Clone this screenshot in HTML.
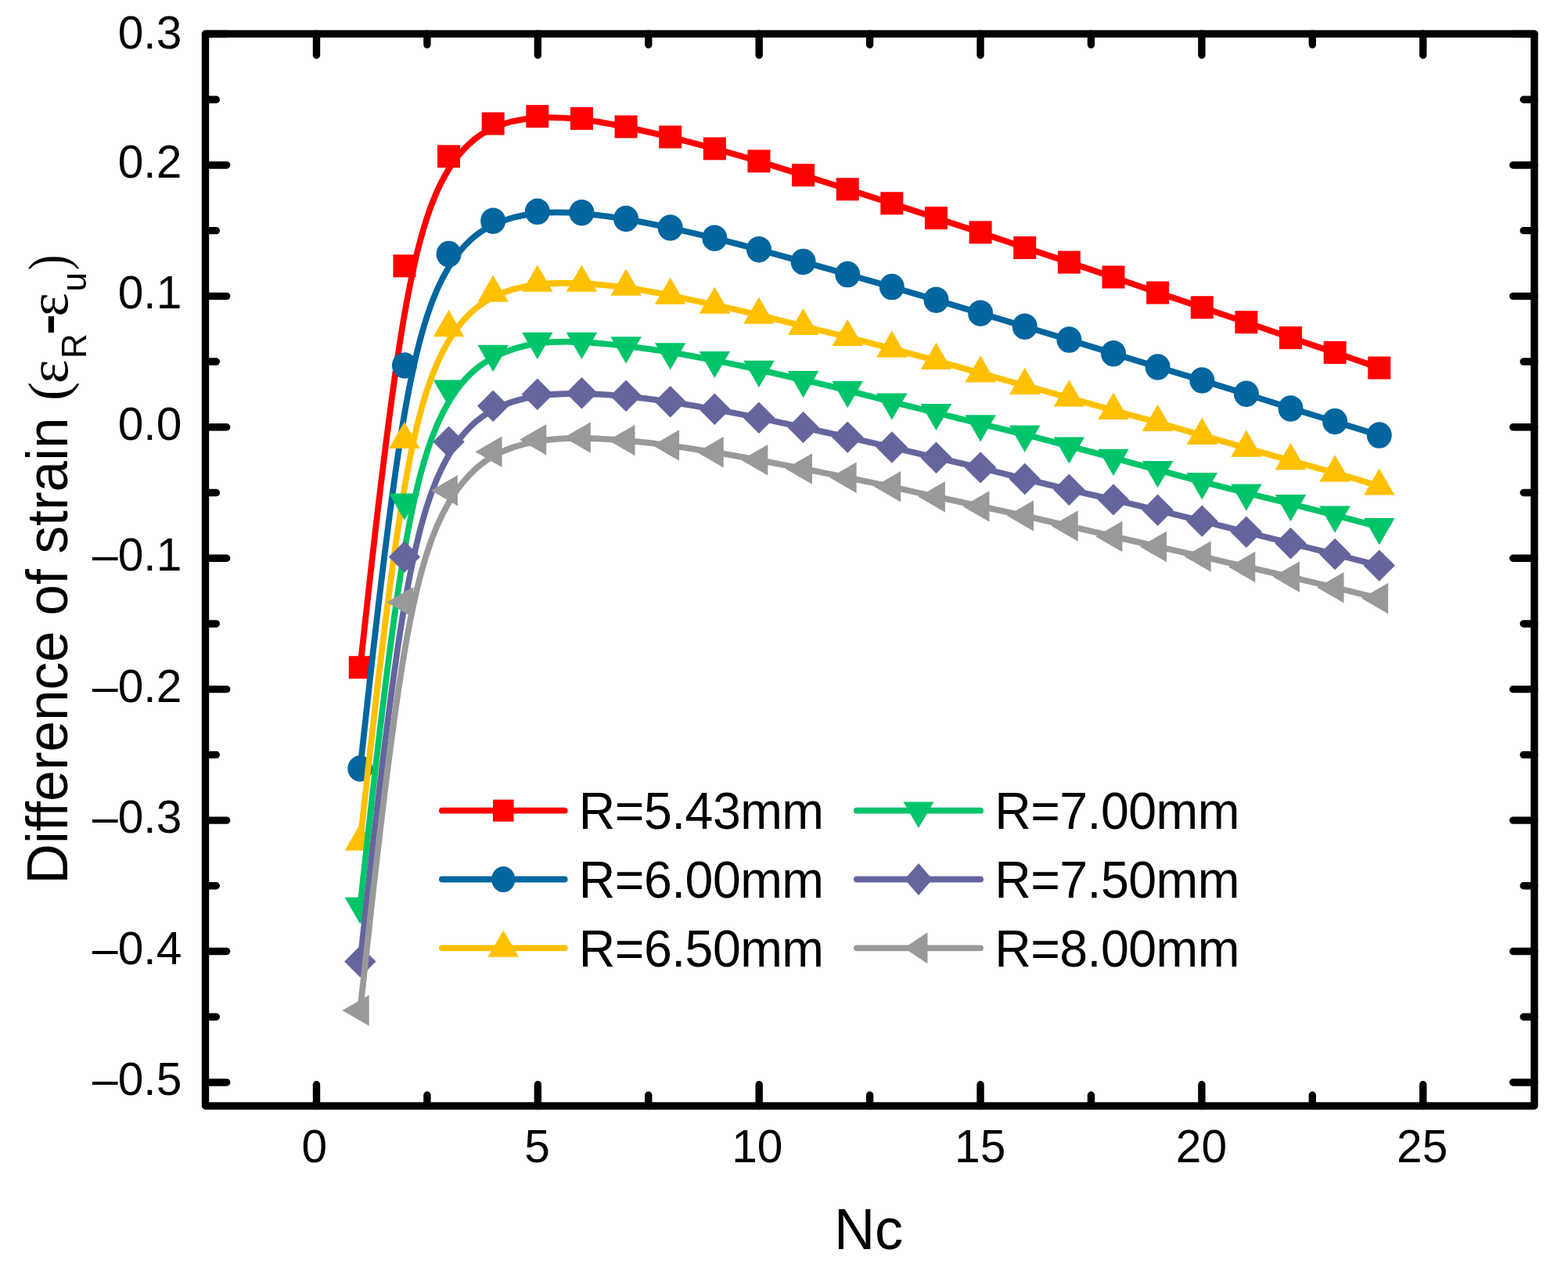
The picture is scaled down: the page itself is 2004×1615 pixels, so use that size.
<!DOCTYPE html>
<html><head><meta charset="utf-8"><title>Difference of strain vs Nc</title>
<style>html,body{margin:0;padding:0;background:#fff;overflow:hidden}svg{display:block}text{font-family:"Liberation Sans",Arial,sans-serif;fill:#000}.srf{font-family:"Liberation Serif","Times New Roman",serif}</style></head>
<body>
<svg width="2004" height="1615" viewBox="0 0 2004 1615">
<rect width="2004" height="1615" fill="#fff"/>
<path d="M460.3,852.7C460.3,852.7 460.3,852.7 469.74,767.22C479.18,681.73 498.05,510.77 516.93,401.95C535.81,293.13 554.68,246.47 573.56,216.17C592.44,185.87 611.31,171.93 630.19,163.4C649.07,154.87 667.94,151.73 686.82,150.63C705.7,149.53 724.57,150.47 743.45,152.68C762.33,154.9 781.2,158.4 800.08,162.33C818.96,166.27 837.83,170.63 856.71,175.3C875.59,179.97 894.46,184.93 913.34,190.08C932.22,195.23 951.09,200.57 969.97,206.22C988.85,211.87 1007.72,217.83 1026.6,223.82C1045.48,229.8 1064.35,235.8 1083.23,241.8C1102.11,247.8 1120.98,253.8 1139.86,259.93C1158.74,266.07 1177.61,272.33 1196.49,278.52C1215.37,284.7 1234.24,290.8 1253.12,297.12C1272,303.43 1290.87,309.97 1309.75,316.33C1328.63,322.7 1347.5,328.9 1366.38,335.15C1385.26,341.4 1404.13,347.7 1423.01,354.18C1441.89,360.67 1460.76,367.33 1479.64,373.8C1498.52,380.27 1517.39,386.53 1536.27,392.82C1555.15,399.1 1574.02,405.4 1592.9,411.87C1611.78,418.33 1630.65,424.97 1649.53,431.42C1668.41,437.87 1687.28,444.13 1706.16,450.53C1725.04,456.93 1743.91,463.47 1753.35,466.73C1762.79,470 1762.79,470 1762.79,470" fill="none" stroke="#FF0000" stroke-width="7.8" stroke-linejoin="round"/>
<g><rect x="445.8" y="838.2" width="29" height="29" fill="#FF0000"/><rect x="502.43" y="325.3" width="29" height="29" fill="#FF0000"/><rect x="559.06" y="185.3" width="29" height="29" fill="#FF0000"/><rect x="615.69" y="143.5" width="29" height="29" fill="#FF0000"/><rect x="672.32" y="134.1" width="29" height="29" fill="#FF0000"/><rect x="728.95" y="136.9" width="29" height="29" fill="#FF0000"/><rect x="785.58" y="147.4" width="29" height="29" fill="#FF0000"/><rect x="842.21" y="160.5" width="29" height="29" fill="#FF0000"/><rect x="898.84" y="175.4" width="29" height="29" fill="#FF0000"/><rect x="955.47" y="191.4" width="29" height="29" fill="#FF0000"/><rect x="1012.1" y="209.3" width="29" height="29" fill="#FF0000"/><rect x="1068.73" y="227.3" width="29" height="29" fill="#FF0000"/><rect x="1125.36" y="245.3" width="29" height="29" fill="#FF0000"/><rect x="1181.99" y="264.1" width="29" height="29" fill="#FF0000"/><rect x="1238.62" y="282.4" width="29" height="29" fill="#FF0000"/><rect x="1295.25" y="302" width="29" height="29" fill="#FF0000"/><rect x="1351.88" y="320.6" width="29" height="29" fill="#FF0000"/><rect x="1408.51" y="339.5" width="29" height="29" fill="#FF0000"/><rect x="1465.14" y="359.5" width="29" height="29" fill="#FF0000"/><rect x="1521.77" y="378.3" width="29" height="29" fill="#FF0000"/><rect x="1578.4" y="397.2" width="29" height="29" fill="#FF0000"/><rect x="1635.03" y="417.1" width="29" height="29" fill="#FF0000"/><rect x="1691.66" y="435.9" width="29" height="29" fill="#FF0000"/><rect x="1748.29" y="455.5" width="29" height="29" fill="#FF0000"/></g>
<path d="M460.3,982C460.3,982 460.3,982 469.74,896.15C479.18,810.3 498.05,638.6 516.93,529.03C535.81,419.47 554.68,372.03 573.56,341.25C592.44,310.47 611.31,296.33 630.19,287.28C649.07,278.23 667.94,274.27 686.82,272.52C705.7,270.77 724.57,271.23 743.45,272.77C762.33,274.3 781.2,276.9 800.08,280.1C818.96,283.3 837.83,287.1 856.71,291.22C875.59,295.33 894.46,299.77 913.34,304.4C932.22,309.03 951.09,313.87 969.97,318.9C988.85,323.93 1007.72,329.17 1026.6,334.48C1045.48,339.8 1064.35,345.2 1083.23,350.57C1102.11,355.93 1120.98,361.27 1139.86,366.7C1158.74,372.13 1177.61,377.67 1196.49,383.27C1215.37,388.87 1234.24,394.53 1253.12,400.2C1272,405.87 1290.87,411.53 1309.75,417.18C1328.63,422.83 1347.5,428.47 1366.38,434.22C1385.26,439.97 1404.13,445.83 1423.01,451.65C1441.89,457.47 1460.76,463.23 1479.64,468.95C1498.52,474.67 1517.39,480.33 1536.27,486.03C1555.15,491.73 1574.02,497.47 1592.9,503.45C1611.78,509.43 1630.65,515.67 1649.53,521.55C1668.41,527.43 1687.28,532.97 1706.16,538.67C1725.04,544.37 1743.91,550.23 1753.35,553.17C1762.79,556.1 1762.79,556.1 1762.79,556.1" fill="none" stroke="#03669F" stroke-width="7.8" stroke-linejoin="round"/>
<g><ellipse cx="460.3" cy="982" rx="15.99" ry="16.73" fill="#03669F"/><ellipse cx="516.93" cy="466.9" rx="15.99" ry="16.73" fill="#03669F"/><ellipse cx="573.56" cy="324.6" rx="15.99" ry="16.73" fill="#03669F"/><ellipse cx="630.19" cy="282.2" rx="15.99" ry="16.73" fill="#03669F"/><ellipse cx="686.82" cy="270.3" rx="15.99" ry="16.73" fill="#03669F"/><ellipse cx="743.45" cy="271.7" rx="15.99" ry="16.73" fill="#03669F"/><ellipse cx="800.08" cy="279.5" rx="15.99" ry="16.73" fill="#03669F"/><ellipse cx="856.71" cy="290.9" rx="15.99" ry="16.73" fill="#03669F"/><ellipse cx="913.34" cy="304.2" rx="15.99" ry="16.73" fill="#03669F"/><ellipse cx="969.97" cy="318.7" rx="15.99" ry="16.73" fill="#03669F"/><ellipse cx="1026.6" cy="334.4" rx="15.99" ry="16.73" fill="#03669F"/><ellipse cx="1083.23" cy="350.6" rx="15.99" ry="16.73" fill="#03669F"/><ellipse cx="1139.86" cy="366.6" rx="15.99" ry="16.73" fill="#03669F"/><ellipse cx="1196.49" cy="383.2" rx="15.99" ry="16.73" fill="#03669F"/><ellipse cx="1253.12" cy="400.2" rx="15.99" ry="16.73" fill="#03669F"/><ellipse cx="1309.75" cy="417.2" rx="15.99" ry="16.73" fill="#03669F"/><ellipse cx="1366.38" cy="434.1" rx="15.99" ry="16.73" fill="#03669F"/><ellipse cx="1423.01" cy="451.7" rx="15.99" ry="16.73" fill="#03669F"/><ellipse cx="1479.64" cy="469" rx="15.99" ry="16.73" fill="#03669F"/><ellipse cx="1536.27" cy="486" rx="15.99" ry="16.73" fill="#03669F"/><ellipse cx="1592.9" cy="503.2" rx="15.99" ry="16.73" fill="#03669F"/><ellipse cx="1649.53" cy="521.9" rx="15.99" ry="16.73" fill="#03669F"/><ellipse cx="1706.16" cy="538.5" rx="15.99" ry="16.73" fill="#03669F"/><ellipse cx="1762.79" cy="556.1" rx="15.99" ry="16.73" fill="#03669F"/></g>
<path d="M460.3,1075.3C460.3,1075.3 460.3,1075.3 469.74,989.68C479.18,904.07 498.05,732.83 516.93,623.42C535.81,514 554.68,466.4 573.56,435.18C592.44,403.97 611.31,389.13 630.19,379.57C649.07,370 667.94,365.7 686.82,363.55C705.7,361.4 724.57,361.4 743.45,362.23C762.33,363.07 781.2,364.73 800.08,367.4C818.96,370.07 837.83,373.73 856.71,377.57C875.59,381.4 894.46,385.4 913.34,389.55C932.22,393.7 951.09,398 969.97,402.55C988.85,407.1 1007.72,411.9 1026.6,416.63C1045.48,421.37 1064.35,426.03 1083.23,430.8C1102.11,435.57 1120.98,440.43 1139.86,445.42C1158.74,450.4 1177.61,455.5 1196.49,460.78C1215.37,466.07 1234.24,471.53 1253.12,476.85C1272,482.17 1290.87,487.33 1309.75,492.53C1328.63,497.73 1347.5,502.97 1366.38,508.3C1385.26,513.63 1404.13,519.07 1423.01,524.28C1441.89,529.5 1460.76,534.5 1479.64,539.83C1498.52,545.17 1517.39,550.83 1536.27,556.32C1555.15,561.8 1574.02,567.1 1592.9,572.48C1611.78,577.87 1630.65,583.33 1649.53,588.6C1668.41,593.87 1687.28,598.93 1706.16,604.33C1725.04,609.73 1743.91,615.47 1753.35,618.33C1762.79,621.2 1762.79,621.2 1762.79,621.2" fill="none" stroke="#FFC000" stroke-width="7.8" stroke-linejoin="round"/>
<g><polygon points="460.3,1052.49 440.55,1086.7 480.05,1086.7" fill="#FFC000"/><polygon points="516.93,538.79 497.18,573 536.68,573" fill="#FFC000"/><polygon points="573.56,395.99 553.81,430.2 593.31,430.2" fill="#FFC000"/><polygon points="630.19,351.49 610.44,385.7 649.94,385.7" fill="#FFC000"/><polygon points="686.82,338.59 667.07,372.8 706.57,372.8" fill="#FFC000"/><polygon points="743.45,338.59 723.7,372.8 763.2,372.8" fill="#FFC000"/><polygon points="800.08,343.59 780.33,377.8 819.83,377.8" fill="#FFC000"/><polygon points="856.71,354.59 836.96,388.8 876.46,388.8" fill="#FFC000"/><polygon points="913.34,366.59 893.59,400.8 933.09,400.8" fill="#FFC000"/><polygon points="969.97,379.49 950.22,413.7 989.72,413.7" fill="#FFC000"/><polygon points="1026.6,393.89 1006.85,428.1 1046.35,428.1" fill="#FFC000"/><polygon points="1083.23,407.89 1063.48,442.1 1102.98,442.1" fill="#FFC000"/><polygon points="1139.86,422.49 1120.11,456.7 1159.61,456.7" fill="#FFC000"/><polygon points="1196.49,437.79 1176.74,472 1216.24,472" fill="#FFC000"/><polygon points="1253.12,454.19 1233.37,488.4 1272.87,488.4" fill="#FFC000"/><polygon points="1309.75,469.69 1290,503.9 1329.5,503.9" fill="#FFC000"/><polygon points="1366.38,485.39 1346.63,519.6 1386.13,519.6" fill="#FFC000"/><polygon points="1423.01,501.69 1403.26,535.9 1442.76,535.9" fill="#FFC000"/><polygon points="1479.64,516.69 1459.89,550.9 1499.39,550.9" fill="#FFC000"/><polygon points="1536.27,533.69 1516.52,567.9 1556.02,567.9" fill="#FFC000"/><polygon points="1592.9,549.59 1573.15,583.8 1612.65,583.8" fill="#FFC000"/><polygon points="1649.53,565.99 1629.78,600.2 1669.28,600.2" fill="#FFC000"/><polygon points="1706.16,581.19 1686.41,615.4 1725.91,615.4" fill="#FFC000"/><polygon points="1762.79,598.39 1743.04,632.6 1782.54,632.6" fill="#FFC000"/></g>
<path d="M460.3,1158C460.3,1158 460.3,1158 469.74,1071.98C479.18,985.97 498.05,813.93 516.93,703.73C535.81,593.53 554.68,545.17 573.56,513.53C592.44,481.9 611.31,467 630.19,456.9C649.07,446.8 667.94,441.5 686.82,438.85C705.7,436.2 724.57,436.2 743.45,437.12C762.33,438.03 781.2,439.87 800.08,442.1C818.96,444.33 837.83,446.97 856.71,450.07C875.59,453.17 894.46,456.73 913.34,460.48C932.22,464.23 951.09,468.17 969.97,472.35C988.85,476.53 1007.72,480.97 1026.6,485.37C1045.48,489.77 1064.35,494.13 1083.23,498.87C1102.11,503.6 1120.98,508.7 1139.86,513.5C1158.74,518.3 1177.61,522.8 1196.49,527.43C1215.37,532.07 1234.24,536.83 1253.12,541.43C1272,546.03 1290.87,550.47 1309.75,555.17C1328.63,559.87 1347.5,564.83 1366.38,569.87C1385.26,574.9 1404.13,580 1423.01,585.1C1441.89,590.2 1460.76,595.3 1479.64,600.37C1498.52,605.43 1517.39,610.47 1536.27,615.4C1555.15,620.33 1574.02,625.17 1592.9,629.83C1611.78,634.5 1630.65,639 1649.53,643.67C1668.41,648.33 1687.28,653.17 1706.16,658.15C1725.04,663.13 1743.91,668.27 1753.35,670.83C1762.79,673.4 1762.79,673.4 1762.79,673.4" fill="none" stroke="#00C46A" stroke-width="7.8" stroke-linejoin="round"/>
<g><polygon points="460.3,1180.81 440.55,1146.6 480.05,1146.6" fill="#00C46A"/><polygon points="516.93,664.71 497.18,630.5 536.68,630.5" fill="#00C46A"/><polygon points="573.56,519.61 553.81,485.4 593.31,485.4" fill="#00C46A"/><polygon points="630.19,474.91 610.44,440.7 649.94,440.7" fill="#00C46A"/><polygon points="686.82,459.01 667.07,424.8 706.57,424.8" fill="#00C46A"/><polygon points="743.45,459.01 723.7,424.8 763.2,424.8" fill="#00C46A"/><polygon points="800.08,464.51 780.33,430.3 819.83,430.3" fill="#00C46A"/><polygon points="856.71,472.41 836.96,438.2 876.46,438.2" fill="#00C46A"/><polygon points="913.34,483.11 893.59,448.9 933.09,448.9" fill="#00C46A"/><polygon points="969.97,494.91 950.22,460.7 989.72,460.7" fill="#00C46A"/><polygon points="1026.6,508.21 1006.85,474 1046.35,474" fill="#00C46A"/><polygon points="1083.23,521.31 1063.48,487.1 1102.98,487.1" fill="#00C46A"/><polygon points="1139.86,536.61 1120.11,502.4 1159.61,502.4" fill="#00C46A"/><polygon points="1196.49,550.11 1176.74,515.9 1216.24,515.9" fill="#00C46A"/><polygon points="1253.12,564.41 1233.37,530.2 1272.87,530.2" fill="#00C46A"/><polygon points="1309.75,577.71 1290,543.5 1329.5,543.5" fill="#00C46A"/><polygon points="1366.38,592.61 1346.63,558.4 1386.13,558.4" fill="#00C46A"/><polygon points="1423.01,607.91 1403.26,573.7 1442.76,573.7" fill="#00C46A"/><polygon points="1479.64,623.21 1459.89,589 1499.39,589" fill="#00C46A"/><polygon points="1536.27,638.31 1516.52,604.1 1556.02,604.1" fill="#00C46A"/><polygon points="1592.9,652.81 1573.15,618.6 1612.65,618.6" fill="#00C46A"/><polygon points="1649.53,666.31 1629.78,632.1 1669.28,632.1" fill="#00C46A"/><polygon points="1706.16,680.81 1686.41,646.6 1725.91,646.6" fill="#00C46A"/><polygon points="1762.79,696.21 1743.04,662 1782.54,662" fill="#00C46A"/></g>
<path d="M460.3,1228.5C460.3,1228.5 460.3,1228.5 469.74,1142.33C479.18,1056.17 498.05,883.83 516.93,773.18C535.81,662.53 554.68,613.57 573.56,581.45C592.44,549.33 611.31,534.07 630.19,523.93C649.07,513.8 667.94,508.8 686.82,506.03C705.7,503.27 724.57,502.73 743.45,503.07C762.33,503.4 781.2,504.6 800.08,506.43C818.96,508.27 837.83,510.73 856.71,513.55C875.59,516.37 894.46,519.53 913.34,522.97C932.22,526.4 951.09,530.1 969.97,533.98C988.85,537.87 1007.72,541.93 1026.6,546.07C1045.48,550.2 1064.35,554.4 1083.23,558.65C1102.11,562.9 1120.98,567.2 1139.86,571.57C1158.74,575.93 1177.61,580.37 1196.49,584.68C1215.37,589 1234.24,593.2 1253.12,597.73C1272,602.27 1290.87,607.13 1309.75,611.87C1328.63,616.6 1347.5,621.2 1366.38,625.6C1385.26,630 1404.13,634.2 1423.01,638.53C1441.89,642.87 1460.76,647.33 1479.64,651.88C1498.52,656.43 1517.39,661.07 1536.27,665.73C1555.15,670.4 1574.02,675.1 1592.9,679.85C1611.78,684.6 1630.65,689.4 1649.53,694.1C1668.41,698.8 1687.28,703.4 1706.16,708.13C1725.04,712.87 1743.91,717.73 1753.35,720.17C1762.79,722.6 1762.79,722.6 1762.79,722.6" fill="none" stroke="#65659E" stroke-width="7.8" stroke-linejoin="round"/>
<g><polygon points="460.3,1208.3 480.5,1228.5 460.3,1248.7 440.1,1228.5" fill="#65659E"/><polygon points="516.93,691.3 537.13,711.5 516.93,731.7 496.73,711.5" fill="#65659E"/><polygon points="573.56,544.4 593.76,564.6 573.56,584.8 553.36,564.6" fill="#65659E"/><polygon points="630.19,498.6 650.39,518.8 630.19,539 609.99,518.8" fill="#65659E"/><polygon points="686.82,483.6 707.02,503.8 686.82,524 666.62,503.8" fill="#65659E"/><polygon points="743.45,482 763.65,502.2 743.45,522.4 723.25,502.2" fill="#65659E"/><polygon points="800.08,485.6 820.28,505.8 800.08,526 779.88,505.8" fill="#65659E"/><polygon points="856.71,493 876.91,513.2 856.71,533.4 836.51,513.2" fill="#65659E"/><polygon points="913.34,502.5 933.54,522.7 913.34,542.9 893.14,522.7" fill="#65659E"/><polygon points="969.97,513.6 990.17,533.8 969.97,554 949.77,533.8" fill="#65659E"/><polygon points="1026.6,525.8 1046.8,546 1026.6,566.2 1006.4,546" fill="#65659E"/><polygon points="1083.23,538.4 1103.43,558.6 1083.23,578.8 1063.03,558.6" fill="#65659E"/><polygon points="1139.86,551.3 1160.06,571.5 1139.86,591.7 1119.66,571.5" fill="#65659E"/><polygon points="1196.49,564.6 1216.69,584.8 1196.49,605 1176.29,584.8" fill="#65659E"/><polygon points="1253.12,577.2 1273.32,597.4 1253.12,617.6 1232.92,597.4" fill="#65659E"/><polygon points="1309.75,591.8 1329.95,612 1309.75,632.2 1289.55,612" fill="#65659E"/><polygon points="1366.38,605.6 1386.58,625.8 1366.38,646 1346.18,625.8" fill="#65659E"/><polygon points="1423.01,618.2 1443.21,638.4 1423.01,658.6 1402.81,638.4" fill="#65659E"/><polygon points="1479.64,631.6 1499.84,651.8 1479.64,672 1459.44,651.8" fill="#65659E"/><polygon points="1536.27,645.5 1556.47,665.7 1536.27,685.9 1516.07,665.7" fill="#65659E"/><polygon points="1592.9,659.6 1613.1,679.8 1592.9,700 1572.7,679.8" fill="#65659E"/><polygon points="1649.53,674 1669.73,694.2 1649.53,714.4 1629.33,694.2" fill="#65659E"/><polygon points="1706.16,687.8 1726.36,708 1706.16,728.2 1685.96,708" fill="#65659E"/><polygon points="1762.79,702.4 1782.99,722.6 1762.79,742.8 1742.59,722.6" fill="#65659E"/></g>
<path d="M460.3,1290.9C460.3,1290.9 460.3,1290.9 469.74,1204.02C479.18,1117.13 498.05,943.37 516.93,832.68C535.81,722 554.68,674.4 573.56,642.35C592.44,610.3 611.31,593.8 630.19,582.95C649.07,572.1 667.94,566.9 686.82,563.83C705.7,560.77 724.57,559.83 743.45,559.97C762.33,560.1 781.2,561.3 800.08,562.97C818.96,564.63 837.83,566.77 856.71,569.32C875.59,571.87 894.46,574.83 913.34,577.97C932.22,581.1 951.09,584.4 969.97,587.92C988.85,591.43 1007.72,595.17 1026.6,598.92C1045.48,602.67 1064.35,606.43 1083.23,610.25C1102.11,614.07 1120.98,617.93 1139.86,622.03C1158.74,626.13 1177.61,630.47 1196.49,634.65C1215.37,638.83 1234.24,642.87 1253.12,646.9C1272,650.93 1290.87,654.97 1309.75,659.15C1328.63,663.33 1347.5,667.67 1366.38,672.08C1385.26,676.5 1404.13,681 1423.01,685.42C1441.89,689.83 1460.76,694.17 1479.64,698.42C1498.52,702.67 1517.39,706.83 1536.27,711.15C1555.15,715.47 1574.02,719.93 1592.9,724.27C1611.78,728.6 1630.65,732.8 1649.53,737.18C1668.41,741.57 1687.28,746.13 1706.16,750.72C1725.04,755.3 1743.91,759.9 1753.35,762.2C1762.79,764.5 1762.79,764.5 1762.79,764.5" fill="none" stroke="#999999" stroke-width="7.8" stroke-linejoin="round"/>
<g><polygon points="437.49,1290.9 471.7,1271.15 471.7,1310.65" fill="#999999"/><polygon points="494.12,769.6 528.33,749.85 528.33,789.35" fill="#999999"/><polygon points="550.75,626.8 584.96,607.05 584.96,646.55" fill="#999999"/><polygon points="607.38,577.3 641.59,557.55 641.59,597.05" fill="#999999"/><polygon points="664.01,561.7 698.22,541.95 698.22,581.45" fill="#999999"/><polygon points="720.64,558.9 754.85,539.15 754.85,578.65" fill="#999999"/><polygon points="777.27,562.5 811.48,542.75 811.48,582.25" fill="#999999"/><polygon points="833.9,568.9 868.11,549.15 868.11,588.65" fill="#999999"/><polygon points="890.53,577.8 924.74,558.05 924.74,597.55" fill="#999999"/><polygon points="947.16,587.7 981.37,567.95 981.37,607.45" fill="#999999"/><polygon points="1003.79,598.9 1038,579.15 1038,618.65" fill="#999999"/><polygon points="1060.42,610.2 1094.63,590.45 1094.63,629.95" fill="#999999"/><polygon points="1117.05,621.8 1151.26,602.05 1151.26,641.55" fill="#999999"/><polygon points="1173.68,634.8 1207.89,615.05 1207.89,654.55" fill="#999999"/><polygon points="1230.31,646.9 1264.52,627.15 1264.52,666.65" fill="#999999"/><polygon points="1286.94,659 1321.15,639.25 1321.15,678.75" fill="#999999"/><polygon points="1343.57,672 1377.78,652.25 1377.78,691.75" fill="#999999"/><polygon points="1400.2,685.5 1434.41,665.75 1434.41,705.25" fill="#999999"/><polygon points="1456.83,698.5 1491.04,678.75 1491.04,718.25" fill="#999999"/><polygon points="1513.46,711 1547.67,691.25 1547.67,730.75" fill="#999999"/><polygon points="1570.09,724.4 1604.3,704.65 1604.3,744.15" fill="#999999"/><polygon points="1626.72,737 1660.93,717.25 1660.93,756.75" fill="#999999"/><polygon points="1683.35,750.7 1717.56,730.95 1717.56,770.45" fill="#999999"/><polygon points="1739.98,764.5 1774.19,744.75 1774.19,784.25" fill="#999999"/></g>
<path d="M262.5,43.5H289.7M1961,43.5H1933.8M262.5,210.93H289.7M1961,210.93H1933.8M262.5,378.36H289.7M1961,378.36H1933.8M262.5,545.79H289.7M1961,545.79H1933.8M262.5,713.22H289.7M1961,713.22H1933.8M262.5,880.65H289.7M1961,880.65H1933.8M262.5,1048.08H289.7M1961,1048.08H1933.8M262.5,1215.51H289.7M1961,1215.51H1933.8M262.5,1382.94H289.7M1961,1382.94H1933.8M262.5,127.21H276.3M1961,127.21H1947.2M262.5,294.64H276.3M1961,294.64H1947.2M262.5,462.07H276.3M1961,462.07H1947.2M262.5,629.5H276.3M1961,629.5H1947.2M262.5,796.93H276.3M1961,796.93H1947.2M262.5,964.37H276.3M1961,964.37H1947.2M262.5,1131.8H276.3M1961,1131.8H1947.2M262.5,1299.22H276.3M1961,1299.22H1947.2M404.5,1413V1385.8M404.5,43.3V70.5M687.35,1413V1385.8M687.35,43.3V70.5M970.2,1413V1385.8M970.2,43.3V70.5M1253.05,1413V1385.8M1253.05,43.3V70.5M1535.9,1413V1385.8M1535.9,43.3V70.5M1818.75,1413V1385.8M1818.75,43.3V70.5M545.92,1413V1399.2M545.92,43.3V57.1M828.77,1413V1399.2M828.77,43.3V57.1M1111.62,1413V1399.2M1111.62,43.3V57.1M1394.47,1413V1399.2M1394.47,43.3V57.1M1677.33,1413V1399.2M1677.33,43.3V57.1" fill="none" stroke="#000" stroke-width="9.4" stroke-linecap="round"/>
<rect x="262.5" y="43.3" width="1698.5" height="1369.7" fill="none" stroke="#000" stroke-width="9.4" stroke-linejoin="round"/>
<g font-size="58.7" text-anchor="end"><text transform="translate(232.3,61.8) scale(1,1.02)">0.3</text><text transform="translate(232.3,226.93) scale(1,1.02)">0.2</text><text transform="translate(232.3,394.36) scale(1,1.02)">0.1</text><text transform="translate(232.3,561.79) scale(1,1.02)">0.0</text><text transform="translate(232.3,729.22) scale(1,1.02)">–0.1</text><text transform="translate(232.3,896.65) scale(1,1.02)">–0.2</text><text transform="translate(232.3,1064.08) scale(1,1.02)">–0.3</text><text transform="translate(232.3,1231.51) scale(1,1.02)">–0.4</text><text transform="translate(232.3,1398.94) scale(1,1.02)">–0.5</text></g>
<g font-size="58.7" text-anchor="middle"><text transform="translate(401.9,1485.4) scale(1,1.02)">0</text><text transform="translate(686.65,1485.4) scale(1,1.02)">5</text><text transform="translate(967.8,1485.4) scale(1,1.02)">10</text><text transform="translate(1252.75,1485.4) scale(1,1.02)">15</text><text transform="translate(1535.4,1485.4) scale(1,1.02)">20</text><text transform="translate(1817.75,1485.4) scale(1,1.02)">25</text></g>
<text transform="translate(1065.9,1596.4) scale(1,1.02)" font-size="72.3">Nc</text>
<g transform="translate(85.5,0) rotate(-90)" font-size="72"><text transform="translate(-1129.4,0) scale(0.9885,1.03)">Difference of strain</text><text class="srf" x="-512" y="0">(</text><text class="srf" x="-490" y="0">ε</text><text x="-458" y="24.3" font-size="44">R</text><text transform="matrix(1.19,0,0,1.28,78.75,4.63)" x="-426.5" y="0">-</text><text class="srf" x="-404.5" y="0">ε</text><text x="-372.5" y="24.3" font-size="44">u</text><text class="srf" transform="translate(-345,0) scale(0.8,1)">)</text></g>
<path d="M564.9,1035.7H721.7" stroke="#FF0000" stroke-width="7.8" stroke-linecap="round"/><rect x="630.05" y="1021.69" width="26.51" height="28.01" fill="#FF0000"/><text transform="translate(739.8,1059.3) scale(1,1.025)" font-size="64.5" textLength="313.3" lengthAdjust="spacing">R=5.43mm</text>
<path d="M564.9,1123.5H721.7" stroke="#03669F" stroke-width="7.8" stroke-linecap="round"/><ellipse cx="643.3" cy="1123.5" rx="15.03" ry="16.56" fill="#03669F"/><text transform="translate(739.8,1147.1) scale(1,1.025)" font-size="64.5" textLength="313.3" lengthAdjust="spacing">R=6.00mm</text>
<path d="M564.9,1211.3H721.7" stroke="#FFC000" stroke-width="7.8" stroke-linecap="round"/><polygon points="643.3,1188.49 623.55,1222.7 663.05,1222.7" fill="#FFC000"/><text transform="translate(739.8,1234.9) scale(1,1.025)" font-size="64.5" textLength="313.3" lengthAdjust="spacing">R=6.50mm</text>
<path d="M1094.9,1035.7H1253.1" stroke="#00C46A" stroke-width="7.8" stroke-linecap="round"/><polygon points="1174,1058.05 1154.45,1024.53 1193.55,1024.53" fill="#00C46A"/><text transform="translate(1271.2,1059.3) scale(1,1.025)" font-size="64.5" textLength="313.3" lengthAdjust="spacing">R=7.00mm</text>
<path d="M1094.9,1123.5H1253.1" stroke="#65659E" stroke-width="7.8" stroke-linecap="round"/><polygon points="1174,1102.9 1191.78,1123.5 1174,1144.1 1156.22,1123.5" fill="#65659E"/><text transform="translate(1271.2,1147.1) scale(1,1.025)" font-size="64.5" textLength="313.3" lengthAdjust="spacing">R=7.50mm</text>
<path d="M1094.9,1211.3H1253.1" stroke="#999999" stroke-width="7.8" stroke-linecap="round"/><polygon points="1155.43,1211.3 1185.53,1191.35 1185.53,1231.25" fill="#999999"/><text transform="translate(1271.2,1234.9) scale(1,1.025)" font-size="64.5" textLength="313.3" lengthAdjust="spacing">R=8.00mm</text>
</svg>
</body></html>
